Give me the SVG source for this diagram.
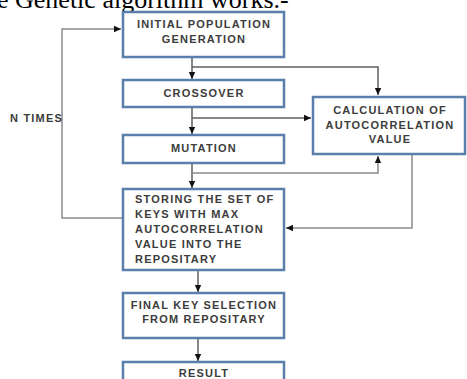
<svg xmlns="http://www.w3.org/2000/svg" width="467" height="379" viewBox="0 0 467 379">
<style>
.box{fill:#ffffff;stroke:#5a7fab;stroke-width:2.5}
.t{font-family:"Liberation Sans",Arial,sans-serif;font-weight:bold;font-size:11px;letter-spacing:1.2px;fill:#3c3c3c}
.c{text-anchor:middle}
.ln{fill:none;stroke:#5f5f5f;stroke-width:1.5}
.lg{fill:none;stroke:#8a8a8a;stroke-width:1.5}
</style>
<defs>
<marker id="ah" markerUnits="userSpaceOnUse" markerWidth="8" markerHeight="8" refX="7" refY="4" orient="auto">
<path d="M0,0.8 L7,4 L0,7.2 Z" fill="#111"/>
</marker>
</defs>
<rect x="0" y="0" width="467" height="379" fill="#ffffff"/>
<text x="-3" y="8" font-family="'Liberation Serif','Times New Roman',serif" font-size="26" fill="#000">e Genetic algorithm works.-</text>
<g id="connectors">
<path class="ln" d="M192,57 V79" marker-end="url(#ah)"/>
<path class="ln" d="M192,67 H378 V95" marker-end="url(#ah)"/>
<path class="ln" d="M192,107 V134" marker-end="url(#ah)"/>
<path class="ln" d="M192,118 H311" marker-end="url(#ah)"/>
<path class="ln" d="M192,163 V188" marker-end="url(#ah)"/>
<path class="lg" d="M192,173 H378 V156" marker-end="url(#ah)"/>
<path class="lg" d="M412,154 V228 H286" marker-end="url(#ah)"/>
<path class="lg" d="M123,218 H62 V29 H121" marker-end="url(#ah)"/>
<path class="ln" d="M198,270 V292" marker-end="url(#ah)"/>
<path class="ln" d="M198,338 V361" marker-end="url(#ah)"/>
</g>
<text class="t" x="10" y="121.5" font-size="10.5">N TIMES</text>
<g id="initial">
<rect class="box" x="123" y="12" width="161" height="45"/>
<text class="t c" x="204" y="28">INITIAL POPULATION</text>
<text class="t c" x="204" y="43">GENERATION</text>
</g>
<g id="crossover">
<rect class="box" x="123" y="80" width="161" height="27"/>
<text class="t c" x="204" y="97">CROSSOVER</text>
</g>
<g id="mutation">
<rect class="box" x="123" y="135" width="161" height="28"/>
<text class="t c" x="204" y="152">MUTATION</text>
</g>
<g id="calculation">
<rect class="box" x="313" y="97" width="152" height="57"/>
<text class="t c" x="390" y="114">CALCULATION OF</text>
<text class="t c" x="390" y="128.5">AUTOCORRELATION</text>
<text class="t c" x="390" y="143">VALUE</text>
</g>
<g id="storing">
<rect class="box" x="123" y="189" width="161" height="81"/>
<text class="t" x="135" y="203">STORING THE SET OF</text>
<text class="t" x="135" y="218">KEYS WITH MAX</text>
<text class="t" x="135" y="233">AUTOCORRELATION</text>
<text class="t" x="135" y="248">VALUE INTO THE</text>
<text class="t" x="135" y="263">REPOSITARY</text>
</g>
<g id="final">
<rect class="box" x="123" y="293" width="161" height="45"/>
<text class="t c" x="204" y="309">FINAL KEY SELECTION</text>
<text class="t c" x="204" y="323">FROM REPOSITARY</text>
</g>
<g id="result">
<rect class="box" x="123" y="362" width="161" height="30"/>
<text class="t c" x="204" y="377">RESULT</text>
</g>
</svg>
